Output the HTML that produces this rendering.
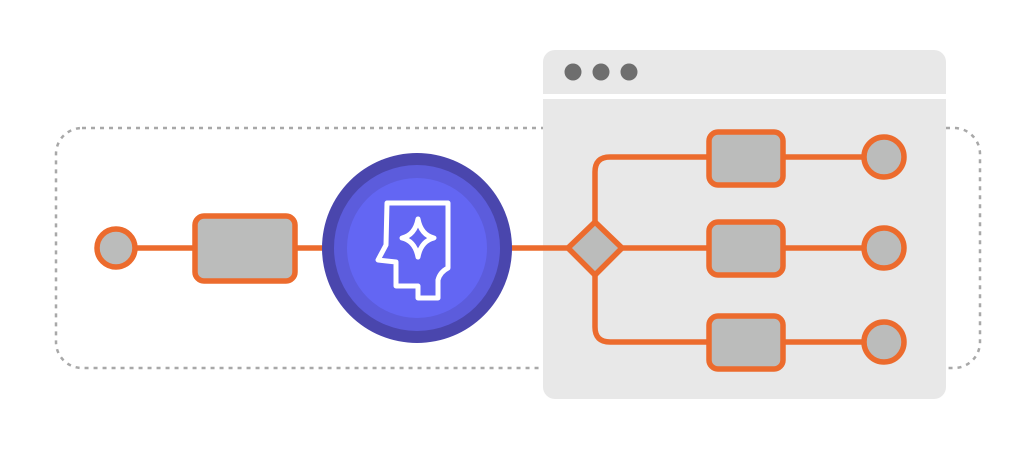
<!DOCTYPE html>
<html><head><style>html,body{margin:0;padding:0;background:#fff}</style></head><body>
<svg width="1024" height="454" viewBox="0 0 1024 454" xmlns="http://www.w3.org/2000/svg">
<rect x="56" y="128" width="924" height="240" rx="26" fill="none" stroke="#a8a8a8" stroke-width="2.5" stroke-dasharray="4 5"/>
<rect x="543" y="50" width="403" height="44" rx="12" fill="#e8e8e8"/>
<rect x="543" y="80" width="403" height="14" fill="#e8e8e8"/>
<rect x="543" y="99" width="403" height="300" rx="12" fill="#e8e8e8"/>
<rect x="543" y="99" width="403" height="14" fill="#e8e8e8"/>
<circle cx="573" cy="72" r="8.5" fill="#6e6e6e"/>
<circle cx="601" cy="72" r="8.5" fill="#6e6e6e"/>
<circle cx="629" cy="72" r="8.5" fill="#6e6e6e"/>
<g stroke="#ec6b2d" stroke-width="5.5" fill="none">
<line x1="136" y1="248" x2="193" y2="248"/>
<line x1="295" y1="248" x2="570" y2="248"/>
<line x1="620" y1="248" x2="864" y2="248"/>
<path d="M595 222 V172 Q595 157 610 157 H864"/>
<path d="M595 274 V327 Q595 342 610 342 H864"/>
</g>
<g fill="#bbbcbb" stroke="#ec6b2d" stroke-width="5.5">
<circle cx="116" cy="248" r="19"/>
<rect x="195" y="216" width="100" height="65" rx="9"/>
<rect x="709" y="132" width="74" height="53" rx="9"/>
<rect x="709" y="222" width="74" height="53" rx="9"/>
<rect x="709" y="316" width="74" height="53" rx="9"/>
<circle cx="884" cy="157" r="20"/>
<circle cx="884" cy="248" r="20"/>
<circle cx="884" cy="342" r="20"/>
<path d="M595 222 L622 248 L595 275 L568 248 Z" stroke-linejoin="round"/>
</g>
<circle cx="417" cy="248" r="95" fill="#4a46ad"/>
<circle cx="417" cy="248" r="83" fill="#5c5cdc"/>
<circle cx="417" cy="248" r="70" fill="#6366f3"/>
<g stroke="#fff" stroke-width="5" fill="none" stroke-linejoin="round" stroke-linecap="round">
<path d="M387 203 H448 V268 Q440 272 438 280 V298 H418 V286 H396 V262 L378 260 L386 245 Z"/>
<path d="M418 219 Q421 235 434 238 Q421 241 418 257 Q415 241 402 238 Q415 235 418 219 Z"/>
</g>
</svg>
</body></html>
